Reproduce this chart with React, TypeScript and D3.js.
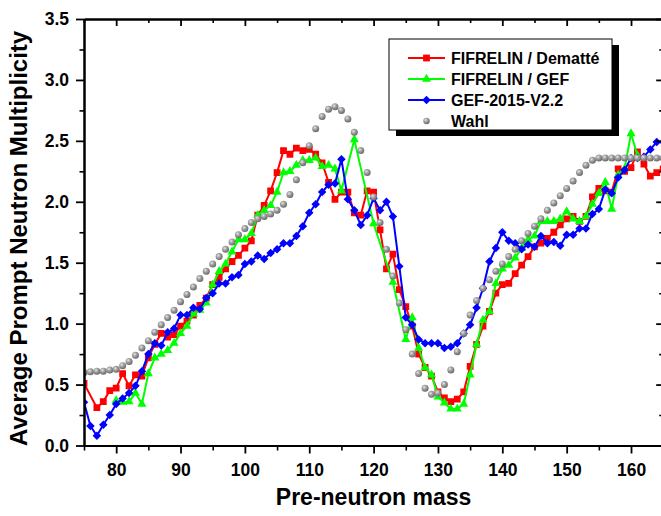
import React, { useEffect, useRef } from "react";
import * as d3 from "d3";

// Pre-neutron mass (x categories)
const masses: number[] = [
  75, 76, 77, 78, 79, 80, 81, 82, 83, 84,
  85, 86, 87, 88, 89, 90, 91, 92, 93, 94,
  95, 96, 97, 98, 99, 100, 101, 102, 103, 104,
  105, 106, 107, 108, 109, 110, 111, 112, 113, 114,
  115, 116, 117, 118, 119, 120, 121, 122, 123, 124,
  125, 126, 127, 128, 129, 130, 131, 132, 133, 134,
  135, 136, 137, 138, 139, 140, 141, 142, 143, 144,
  145, 146, 147, 148, 149, 150, 151, 152, 153, 154,
  155, 156, 157, 158, 159, 160, 161, 162, 163, 164,
  165,
];

// FIFRELIN / Dematté
const dematte: (number | null)[] = [
  0.51, null, 0.31, 0.36, 0.45, 0.47, 0.59, 0.49, 0.58, 0.57,
  0.72, 0.83, 0.92, 0.89, 0.91, 0.98, 1.02, 1.07, 1.15, 1.21,
  1.32, 1.38, 1.45, 1.51, 1.56, 1.62, 1.68, 1.89, 1.97, 2.09,
  2.24, 2.42, 2.39, 2.44, 2.42, 2.43, 2.39, 2.32, 2.16, 2.02,
  2.08, 2.08, 1.91, 1.89, 2.09, 2.08, 1.77, 1.45, 1.57, 1.28,
  1.14, 0.98, 0.75, 0.64, 0.57, 0.44, 0.39, 0.36, 0.38, 0.44,
  0.65, 0.83, 0.98, 1.10, 1.25, 1.32, 1.33, 1.41, 1.48, 1.55,
  1.63, 1.66, 1.70, 1.75, 1.81, 1.86, 1.88, 1.84, 1.88, 2.04,
  2.11, 2.09, 2.08, 2.27, 2.25, 2.28, 2.41, 2.31, 2.21, 2.24,
  2.27,
];

// FIFRELIN / GEF
const fifrelinGef: (number | null)[] = [
  null, null, null, null, null, 0.37, 0.355, 0.36, 0.43, 0.34,
  0.59, 0.72, 0.75, 0.78, 0.84, 0.92, 0.98, 1.08, 1.11, 1.17,
  1.32, 1.43, 1.49, 1.59, 1.69, 1.69, 1.74, 1.89, 1.93, 1.97,
  2.08, 2.24, 2.25, 2.30, 2.34, 2.34, 2.36, 2.29, 2.30, 2.27,
  2.09, null, 2.51, null, null, 1.82, null, null, 1.34, null,
  0.87, 1.05, 0.80, 0.64, 0.58, 0.40, 0.35, 0.30, 0.30, 0.34,
  0.58, 0.83, 1.03, 1.10, 1.33, 1.45, 1.48, 1.54, 1.62, 1.69,
  1.72, 1.84, 1.84, 1.84, 1.86, 1.92, 1.86, 1.84, 1.88, 1.98,
  2.07, 2.16, 1.94, 2.22, 2.27, 2.56, 2.38, null, null, null,
  null,
];

// GEF-2015-V2.2
const gef2015: (number | null)[] = [
  0.355, 0.16, 0.08, 0.17, 0.25, 0.34, 0.385, 0.43, 0.49, 0.61,
  0.75, 0.84, 0.82, 0.93, 0.96, 1.07, 1.07, 1.13, 1.12, 1.21,
  1.25, 1.33, 1.33, 1.38, 1.40, 1.49, 1.51, 1.56, 1.53, 1.58,
  1.61, 1.66, 1.66, 1.72, 1.80, 1.91, 1.98, 2.08, 2.14, 2.15,
  2.35, 2.02, 1.93, 1.81, 1.89, 2.03, 1.93, 2.00, 1.88, 1.47,
  1.05, 0.99, 0.87, 0.84, 0.84, 0.84, 0.80, 0.81, 0.84, 0.92,
  0.99, 1.13, 1.29, 1.51, 1.62, 1.75, 1.68, 1.66, 1.61, 1.65,
  1.63, 1.72, 1.66, 1.67, 1.64, 1.73, 1.73, 1.78, 1.78, 1.90,
  1.94, 2.10, 2.07, 2.20, 2.26, 2.36, 2.36, 2.37, 2.43, 2.49,
  2.49,
];

// Wahl
const wahl: (number | null)[] = [
  0.60, 0.605, 0.61, 0.61, 0.62, 0.625, 0.655, 0.69, 0.74, 0.80,
  0.86, 0.93, 0.99, 1.05, 1.11, 1.18, 1.24, 1.30, 1.37, 1.43,
  1.49, 1.55, 1.61, 1.67, 1.73, 1.78, 1.83, 1.86, 1.88, 1.90,
  1.93, 1.98, 2.06, 2.18, 2.32, 2.46, 2.60, 2.70, 2.76, 2.78,
  2.75, 2.68, 2.57, 2.42, 2.24, 2.04, 1.83, 1.61, 1.39, 1.17,
  0.95, 0.75, 0.59, 0.47, 0.42, 0.43, 0.50, 0.62, 0.77, 0.92,
  1.07, 1.19, 1.29, 1.36, 1.43, 1.49, 1.55, 1.61, 1.68, 1.74,
  1.80, 1.86, 1.93, 1.99, 2.05, 2.11, 2.17, 2.24, 2.30, 2.34,
  2.36, 2.36, 2.36, 2.36, 2.36, 2.36, 2.36, 2.36, 2.36, 2.36,
  2.36,
];

const xMajorTicks = [80, 90, 100, 110, 120, 130, 140, 150, 160];
const xMinorTicks = [75, 85, 95, 105, 115, 125, 135, 145, 155, 165];
const yMajorTicks = [0, 0.5, 1.0, 1.5, 2.0, 2.5, 3.0, 3.5];
const yMinorTicks = [0.25, 0.75, 1.25, 1.75, 2.25, 2.75, 3.25];

const seriesNames = ["FIFRELIN / Dematté", "FIFRELIN / GEF", "GEF-2015-V2.2", "Wahl"];

const FONT = "'Liberation Sans', Arial, Helvetica, sans-serif";

export default function App() {
  const ref = useRef<SVGSVGElement>(null);

  useEffect(() => {
    const svg = d3.select(ref.current);
    svg.selectAll("*").remove();

    const W = 661, H = 516;
    const left = 84, right = 663.2, top = 19, bottom = 445.5;

    const x = d3.scaleLinear().domain([75, 165]).range([left, right]);
    const y = d3.scaleLinear().domain([0, 3.5]).range([bottom, top]);

    svg.append("rect").attr("width", W).attr("height", H).attr("fill", "#fff");

    const defs = svg.append("defs");
    const grad = defs.append("radialGradient").attr("id", "sphere").attr("cx", "38%").attr("cy", "35%").attr("r", "65%");
    grad.append("stop").attr("offset", "0%").attr("stop-color", "#e6e6e6");
    grad.append("stop").attr("offset", "45%").attr("stop-color", "#a0a0a0");
    grad.append("stop").attr("offset", "100%").attr("stop-color", "#6a6a6a");
    defs.append("clipPath").attr("id", "plotClip")
      .append("rect").attr("x", left).attr("y", top).attr("width", right - left).attr("height", bottom - top);

    const plot = svg.append("g").attr("clip-path", "url(#plotClip)");

    type Pt = { m: number; v: number };
    const pts = (vals: (number | null)[]): Pt[] =>
      masses
        .map((m, i) => ({ m, v: vals[i] }))
        .filter((d) => d.v !== null)
        .map((d) => ({ m: d.m, v: d.v as number }));

    const line = d3.line<Pt>().x((d) => x(d.m)).y((d) => y(d.v));

    const sq = d3.symbol().type(d3.symbolSquare).size(46)();
    const tri = d3.symbol().type(d3.symbolTriangle).size(36)();
    const dia = d3.symbol().type(d3.symbolSquare).size(36)();

    const drawSeries = (vals: (number | null)[], color: string, shape: string, rotate: number) => {
      const data = pts(vals);
      plot.append("path").attr("d", line(data) as string).attr("fill", "none")
        .attr("stroke", color).attr("stroke-width", 2).attr("stroke-linejoin", "round");
      plot.append("g").selectAll("path").data(data).join("path")
        .attr("d", shape)
        .attr("transform", (d) => `translate(${x(d.m)},${y(d.v)}) rotate(${rotate})`)
        .attr("fill", color);
    };

    drawSeries(dematte, "#ff0000", sq, 0);
    drawSeries(fifrelinGef, "#00ff00", tri, 0);
    drawSeries(gef2015, "#0000ff", dia, 45);

    plot.append("g").selectAll("circle").data(pts(wahl)).join("circle")
      .attr("cx", (d) => x(d.m)).attr("cy", (d) => y(d.v)).attr("r", 3.5)
      .attr("fill", "url(#sphere)");

    // Axes
    const styleAxis = (g: any, width: number) => {
      g.select(".domain").attr("stroke", "#000").attr("stroke-width", 2);
      g.selectAll(".tick line").attr("stroke", "#000").attr("stroke-width", width);
      g.selectAll(".tick text").attr("fill", "#000").style("font-family", FONT)
        .style("font-weight", "bold").style("font-size", "17.5px");
    };

    const ax = svg.append("g");
    const gb = ax.append("g").attr("transform", `translate(0,${bottom})`)
      .call(d3.axisBottom(x).tickValues(xMajorTicks).tickSize(8).tickSizeOuter(0).tickPadding(10).tickFormat(d3.format("d")) as any);
    styleAxis(gb, 1.8);
    const gbm = ax.append("g").attr("transform", `translate(0,${bottom})`)
      .call(d3.axisBottom(x).tickValues(xMinorTicks).tickSize(5).tickSizeOuter(0).tickFormat(() => "") as any);
    styleAxis(gbm, 1.6);

    const gt = ax.append("g").attr("transform", `translate(0,${top})`)
      .call(d3.axisTop(x).tickValues(xMajorTicks).tickSize(-7).tickSizeOuter(0).tickFormat(() => "") as any);
    styleAxis(gt, 1.8);
    const gtm = ax.append("g").attr("transform", `translate(0,${top})`)
      .call(d3.axisTop(x).tickValues(xMinorTicks).tickSize(-4).tickSizeOuter(0).tickFormat(() => "") as any);
    styleAxis(gtm, 1.6);

    const gl = ax.append("g").attr("transform", `translate(${left},0)`)
      .call(d3.axisLeft(y).tickValues(yMajorTicks).tickSize(8).tickSizeOuter(0).tickPadding(7).tickFormat(d3.format(".1f")) as any);
    styleAxis(gl, 1.8);
    const glm = ax.append("g").attr("transform", `translate(${left},0)`)
      .call(d3.axisLeft(y).tickValues(yMinorTicks).tickSize(4.5).tickSizeOuter(0).tickFormat(() => "") as any);
    styleAxis(glm, 1.6);

    const gr = ax.append("g").attr("transform", `translate(${right},0)`)
      .call(d3.axisRight(y).tickValues(yMajorTicks).tickSize(-7).tickSizeOuter(0).tickFormat(() => "") as any);
    styleAxis(gr, 1.8);
    const grm = ax.append("g").attr("transform", `translate(${right},0)`)
      .call(d3.axisRight(y).tickValues(yMinorTicks).tickSize(-4).tickSizeOuter(0).tickFormat(() => "") as any);
    styleAxis(grm, 1.6);

    // Axis titles
    svg.append("text").attr("x", (left + right) / 2).attr("y", 505)
      .attr("text-anchor", "middle").style("font-family", FONT).style("font-weight", "bold")
      .style("font-size", "23px").attr("fill", "#000").text("Pre-neutron mass");
    svg.append("text").attr("transform", `translate(27,446) rotate(-90)`)
      .attr("text-anchor", "start").style("font-family", FONT).style("font-weight", "bold")
      .style("font-size", "24px").attr("fill", "#000").text("Average Prompt Neutron Multiplicity");

    // Legend
    const lg = svg.append("g");
    const lx = 389, ly = 39, lw = 223, lh = 91;
    lg.append("rect").attr("x", lx + 7).attr("y", ly + 6).attr("width", lw).attr("height", lh).attr("fill", "#000");
    lg.append("rect").attr("x", lx).attr("y", ly).attr("width", lw).attr("height", lh)
      .attr("fill", "#fff").attr("stroke", "#000").attr("stroke-width", 1);
    const rows = [58, 79, 100, 121];
    const colors = ["#ff0000", "#00ff00", "#0000ff"];
    const shapes = [sq, tri, dia];
    const rots = [0, 0, 45];
    seriesNames.forEach((name, i) => {
      const ry = rows[i];
      if (i < 3) {
        lg.append("line").attr("x1", 408).attr("x2", 445).attr("y1", ry).attr("y2", ry)
          .attr("stroke", colors[i]).attr("stroke-width", 2);
        lg.append("path").attr("d", shapes[i]).attr("transform", `translate(426.5,${ry}) rotate(${rots[i]})`)
          .attr("fill", colors[i]);
      } else {
        lg.append("circle").attr("cx", 426.5).attr("cy", ry).attr("r", 3.2).attr("fill", "url(#sphere)");
      }
      lg.append("text").attr("x", 451).attr("y", ry + 6).style("font-family", FONT)
        .style("font-weight", "bold").style("font-size", "16px").attr("fill", "#000").text(name);
    });
  }, []);

  return (
    <svg
      ref={ref}
      width={661}
      height={516}
      style={{ position: "absolute", left: 0, top: 0, display: "block" }}
    />
  );
}
